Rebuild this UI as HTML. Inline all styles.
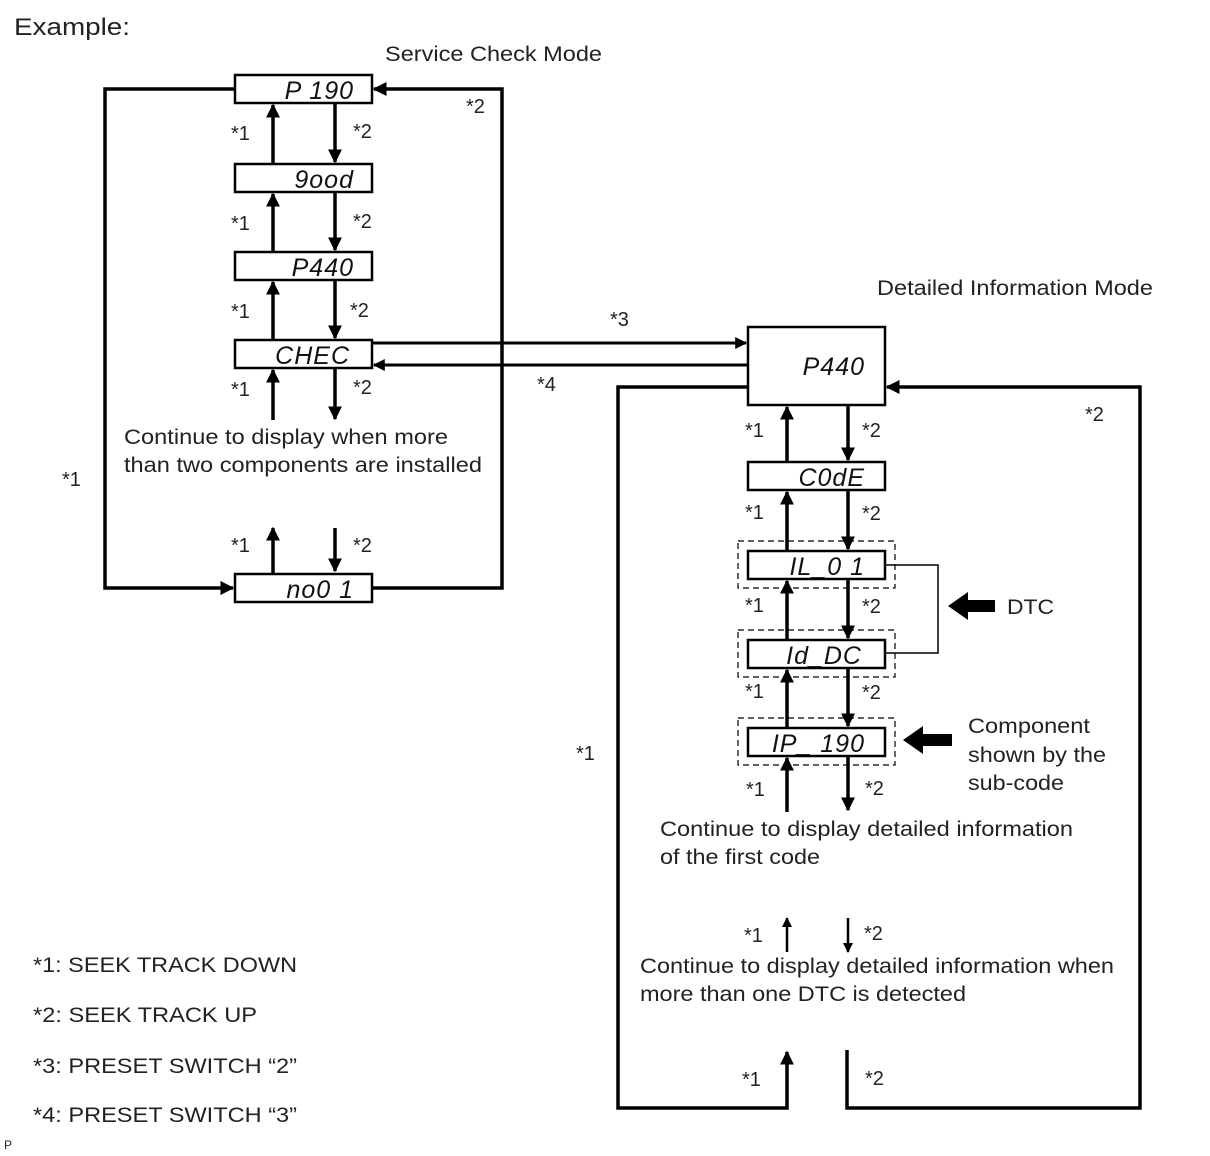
<!DOCTYPE html>
<html><head><meta charset="utf-8"><style>
html,body{margin:0;padding:0;background:#fff;}
svg{display:block;}
text{font-family:"Liberation Sans",Arial,sans-serif;fill:#222;}
.seg{font-style:italic;font-size:25px;fill:#111;letter-spacing:1px;}
.s{font-size:20px;}
.t{font-size:21px;}
</style></head><body>
<svg width="1210" height="1156" viewBox="0 0 1210 1156" xmlns="http://www.w3.org/2000/svg">
<defs>
<marker id="a" viewBox="0 0 10 10" refX="9" refY="5" markerWidth="4" markerHeight="4" orient="auto-start-reverse"><path d="M0,0 L10,5 L0,10 z" fill="#000"/></marker>
</defs>
<text x="14" y="35" font-size="24" textLength="116" lengthAdjust="spacingAndGlyphs">Example:</text>
<text x="385" y="61" class="t" textLength="217" lengthAdjust="spacingAndGlyphs">Service Check Mode</text>
<text x="877" y="295" class="t" textLength="276" lengthAdjust="spacingAndGlyphs">Detailed Information Mode</text>

<g stroke="#000" stroke-width="3.5" fill="none">
<polyline points="235,89 105,89 105,588 233,588" marker-end="url(#a)"/>
<polyline points="372,588 502,588 502,89 374,89" marker-end="url(#a)"/>
<line x1="273" y1="164" x2="273" y2="105" marker-end="url(#a)"/>
<line x1="335" y1="103" x2="335" y2="162" marker-end="url(#a)"/>
<line x1="273" y1="252" x2="273" y2="194" marker-end="url(#a)"/>
<line x1="335" y1="192" x2="335" y2="250" marker-end="url(#a)"/>
<line x1="273" y1="340" x2="273" y2="282" marker-end="url(#a)"/>
<line x1="335" y1="280" x2="335" y2="338" marker-end="url(#a)"/>
<line x1="273" y1="420" x2="273" y2="370" marker-end="url(#a)"/>
<line x1="335" y1="368" x2="335" y2="419" marker-end="url(#a)"/>
<line x1="273" y1="573" x2="273" y2="528" marker-end="url(#a)"/>
<line x1="335" y1="528" x2="335" y2="571" marker-end="url(#a)"/>
<line x1="372" y1="343" x2="746" y2="343" marker-end="url(#a)" stroke-width="3"/>
<line x1="748" y1="365" x2="374" y2="365" marker-end="url(#a)" stroke-width="3"/>
<polyline points="748,387 618,387 618,1108 787,1108 787,1052" marker-end="url(#a)"/>
<polyline points="847,1050 847,1108 1140,1108 1140,387 887,387" marker-end="url(#a)"/>
<line x1="787" y1="462" x2="787" y2="407" marker-end="url(#a)"/>
<line x1="848" y1="405" x2="848" y2="460" marker-end="url(#a)"/>
<line x1="787" y1="551" x2="787" y2="492" marker-end="url(#a)"/>
<line x1="848" y1="490" x2="848" y2="549" marker-end="url(#a)"/>
<line x1="787" y1="640" x2="787" y2="581" marker-end="url(#a)"/>
<line x1="848" y1="579" x2="848" y2="638" marker-end="url(#a)"/>
<line x1="787" y1="728" x2="787" y2="670" marker-end="url(#a)"/>
<line x1="848" y1="668" x2="848" y2="726" marker-end="url(#a)"/>
<line x1="787" y1="812" x2="787" y2="758" marker-end="url(#a)"/>
<line x1="848" y1="756" x2="848" y2="810" marker-end="url(#a)"/>
<line x1="787" y1="952" x2="787" y2="918" marker-end="url(#a)" stroke-width="2.5"/>
<line x1="848" y1="918" x2="848" y2="952" marker-end="url(#a)" stroke-width="2.5"/>
</g>

<g stroke="#000" stroke-width="2.5" fill="#fff">
<rect x="235" y="75" width="137" height="28"/>
<rect x="235" y="164" width="137" height="28"/>
<rect x="235" y="252" width="137" height="28"/>
<rect x="235" y="340" width="137" height="28"/>
<rect x="235" y="574" width="137" height="28"/>
<rect x="748" y="327" width="137" height="78"/>
<rect x="748" y="462" width="137" height="28"/>
<rect x="748" y="551" width="137" height="28"/>
<rect x="748" y="640" width="137" height="28"/>
<rect x="748" y="728" width="137" height="28"/>
</g>
<g stroke="#000" stroke-width="1.2" fill="none" stroke-dasharray="6,4">
<rect x="738" y="541" width="157" height="47"/>
<rect x="738" y="630" width="157" height="47"/>
<rect x="738" y="718" width="157" height="47"/>
</g>
<polyline points="885,565 938,565 938,653 885,653" stroke="#000" stroke-width="1.5" fill="none"/>
<path d="M948,606 L968,592 L968,600 L995,600 L995,612 L968,612 L968,620 z" fill="#000"/>
<path d="M903,740 L923,726 L923,734 L952,734 L952,746 L923,746 L923,754 z" fill="#000"/>

<text class="seg" x="354" y="99" text-anchor="end">P 190</text>
<text class="seg" x="354" y="188" text-anchor="end">9ood</text>
<text class="seg" x="354" y="276" text-anchor="end">P440</text>
<text class="seg" x="350" y="364" text-anchor="end">CHEC</text>
<text class="seg" x="354" y="598" text-anchor="end">no0 1</text>
<text class="seg" x="865" y="375" text-anchor="end">P440</text>
<text class="seg" x="865" y="486" text-anchor="end">C0dE</text>
<text class="seg" x="865" y="575" text-anchor="end">IL_0 1</text>
<text class="seg" x="862" y="664" text-anchor="end">Id_DC</text>
<text class="seg" x="865" y="752" text-anchor="end">IP_ 190</text>

<g class="s">
<text x="231" y="140" class="s">*1</text><text x="353" y="138" class="s">*2</text>
<text x="231" y="230" class="s">*1</text><text x="353" y="228" class="s">*2</text>
<text x="231" y="318" class="s">*1</text><text x="350" y="317" class="s">*2</text>
<text x="231" y="396" class="s">*1</text><text x="353" y="394" class="s">*2</text>
<text x="231" y="552" class="s">*1</text><text x="353" y="552" class="s">*2</text>
<text x="466" y="113" class="s">*2</text>
<text x="62" y="486" class="s">*1</text>
<text x="610" y="326" class="s">*3</text>
<text x="537" y="391" class="s">*4</text>
<text x="1085" y="421" class="s">*2</text>
<text x="745" y="437" class="s">*1</text><text x="862" y="437" class="s">*2</text>
<text x="745" y="519" class="s">*1</text><text x="862" y="520" class="s">*2</text>
<text x="745" y="612" class="s">*1</text><text x="862" y="613" class="s">*2</text>
<text x="745" y="698" class="s">*1</text><text x="862" y="699" class="s">*2</text>
<text x="746" y="796" class="s">*1</text><text x="865" y="795" class="s">*2</text>
<text x="576" y="760" class="s">*1</text>
<text x="744" y="942" class="s">*1</text><text x="864" y="940" class="s">*2</text>
<text x="742" y="1086" class="s">*1</text><text x="865" y="1085" class="s">*2</text>
</g>

<text x="124" y="444" class="t" textLength="324" lengthAdjust="spacingAndGlyphs">Continue to display when more</text>
<text x="124" y="472" class="t" textLength="358" lengthAdjust="spacingAndGlyphs">than two components are installed</text>
<text x="1007" y="614" class="t" textLength="47" lengthAdjust="spacingAndGlyphs">DTC</text>
<text x="968" y="733" class="t" textLength="122" lengthAdjust="spacingAndGlyphs">Component</text>
<text x="968" y="762" class="t" textLength="138" lengthAdjust="spacingAndGlyphs">shown by the</text>
<text x="968" y="790" class="t" textLength="96" lengthAdjust="spacingAndGlyphs">sub-code</text>
<text x="660" y="836" class="t" textLength="413" lengthAdjust="spacingAndGlyphs">Continue to display detailed information</text>
<text x="660" y="864" class="t" textLength="160" lengthAdjust="spacingAndGlyphs">of the first code</text>
<text x="640" y="973" class="t" textLength="474" lengthAdjust="spacingAndGlyphs">Continue to display detailed information when</text>
<text x="640" y="1001" class="t" textLength="326" lengthAdjust="spacingAndGlyphs">more than one DTC is detected</text>

<text x="33" y="972" class="t" textLength="264" lengthAdjust="spacingAndGlyphs">*1: SEEK TRACK DOWN</text>
<text x="33" y="1022" class="t" textLength="224" lengthAdjust="spacingAndGlyphs">*2: SEEK TRACK UP</text>
<text x="33" y="1073" class="t" textLength="264" lengthAdjust="spacingAndGlyphs">*3: PRESET SWITCH “2”</text>
<text x="33" y="1122" class="t" textLength="264" lengthAdjust="spacingAndGlyphs">*4: PRESET SWITCH “3”</text>
<text x="4" y="1149" font-size="12">P</text>
</svg>
</body></html>
